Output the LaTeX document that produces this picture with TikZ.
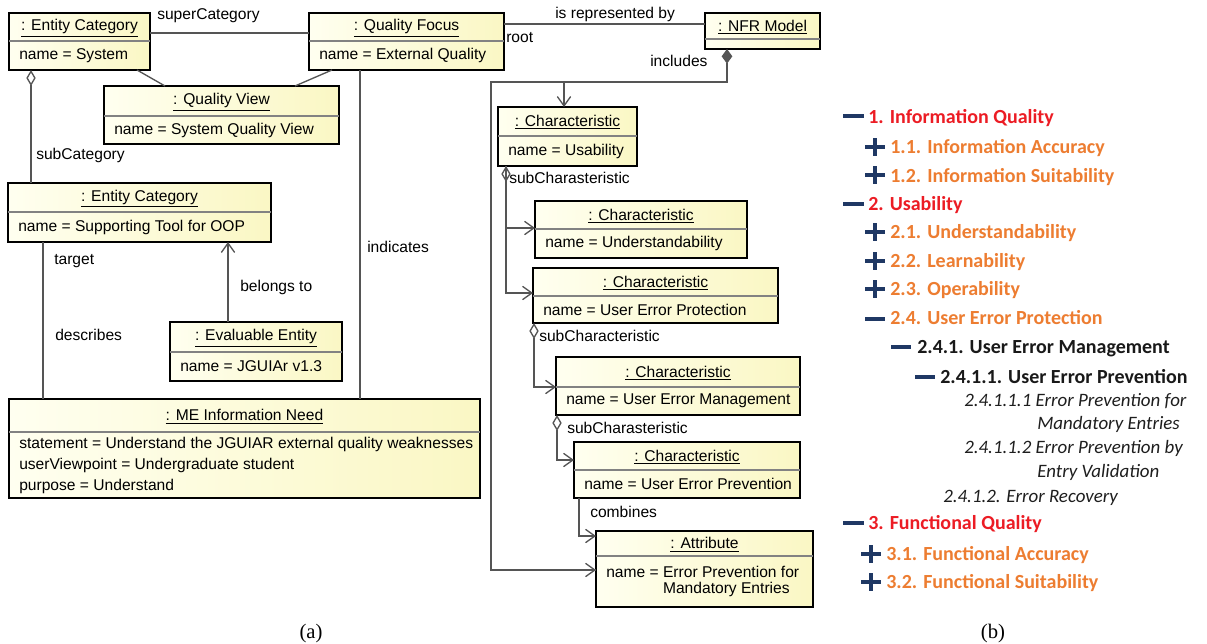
\documentclass[tikz,border=0pt]{standalone}
\usepackage{fontspec}
\setmainfont{Liberation Sans}
\newfontfamily\treefont{Carlito}
\newfontfamily\capfont{Liberation Serif}
\usetikzlibrary{fit,calc,arrows.meta}

\definecolor{objleft}{RGB}{255,255,240}
\definecolor{objright}{RGB}{250,247,196}
\definecolor{linkgray}{RGB}{85,85,85}
\definecolor{divgray}{RGB}{130,130,130}
\definecolor{lvlred}{RGB}{236,28,36}
\definecolor{lvlorange}{RGB}{237,125,49}
\definecolor{treenavy}{RGB}{31,56,100}
\definecolor{leafgray}{RGB}{30,30,30}

\newcommand\umlfont{\fontsize{11.7}{15.75}\selectfont}

\tikzset{
  objbox/.style={draw=black, line width=1.5pt, inner sep=0pt, outer sep=0pt,
    left color=objleft, right color=objright},
  objdiv/.style={draw=divgray, line width=0.8pt},
  objtitle/.style={inner sep=0pt, font=\umlfont},
  objattr/.style={inner sep=0pt, anchor=west, align=left, font=\umlfont},
  link/.style={draw=linkgray, line width=1pt},
  nav/.style={link, -{Straight Barb[length=7pt,width=10pt]}},
  aggr/.style={link, {Diamond[fill=white,length=12pt,width=7pt]}-},
  aggrnav/.style={link, {Diamond[fill=white,length=12pt,width=7pt]}-{Straight Barb[length=7pt,width=10pt]}},
  comp/.style={link, {Diamond[fill=linkgray,length=11pt,width=8pt]}-},
  role/.style={inner sep=0pt, anchor=west, font=\umlfont},
  lvlone/.style={anchor=base west, inner sep=0pt, text=lvlred,
    font={\treefont\bfseries\fontsize{15}{18}\selectfont}},
  lvltwo/.style={lvlone, text=lvlorange},
  lvldeep/.style={lvlone, text=black!90},
  lvlleaf/.style={anchor=base west, inner sep=0pt, text=leafgray,
    font={\treefont\itshape\fontsize{14.2}{17}\selectfont}},
  treeminus/.style={draw=treenavy, line width=2.3pt},
  treeplus/.style={draw=treenavy, line width=2.6pt},
  caption/.style={anchor=base, inner sep=0pt, font={\capfont\fontsize{15.5}{18}\selectfont}}
}

% object box: name, x1, y1, x2, y2, divider y, title, attributes
\newcommand\umlobject[8]{%
  \node[objbox, fit={(#2,#3) (#4,#5)}] (#1) {};
  \draw[objdiv] (#2,#6) -- (#4,#6);
  \node[objtitle] (#1-t) at ({(#2+#4)/2},{(#3+#6)/2+1}) {\underline{#7}};
  \node[objattr] (#1-a) at ({#2+10},{(#6+#5)/2}) {#8};
}

\begin{document}
\begin{tikzpicture}[x=0.75pt,y=-0.75pt]
\path[use as bounding box, fill=white] (0,0) rectangle (1207,643);

% ---------------- (a) object diagram ----------------
\umlobject{ec1}{9}{13}{150}{70}{41}{: Entity Category}{name = System}
\umlobject{qf}{309}{13}{504}{70}{41}{: Quality Focus}{name = External Quality}
\umlobject{nfr}{705}{13}{820}{49}{39}{: NFR Model}{}
\umlobject{qv}{104}{86}{339}{144}{116}{: Quality View}{name = System Quality View}
\umlobject{ec2}{8}{183}{271}{242}{212}{: Entity Category}{name = Supporting Tool for OOP}
\umlobject{ee}{170}{322}{342}{381}{352}{: Evaluable Entity}{name = JGUIAr v1.3}
\umlobject{me}{9}{399}{480}{498}{432}{: ME Information Need}{statement = Understand the JGUIAR external quality weaknesses\\userViewpoint = Undergraduate student\\purpose = Understand}
\umlobject{usab}{498}{107}{637}{166}{136}{: Characteristic}{name = Usability}
\umlobject{und}{535}{201}{747}{258}{229}{: Characteristic}{name = Understandability}
\umlobject{uep}{533}{268}{778}{323}{296}{: Characteristic}{name = User Error Protection}
\umlobject{uem}{556}{357}{800}{415}{387}{: Characteristic}{name = User Error Management}
\umlobject{uepr}{574}{442}{800}{498}{470}{: Characteristic}{name = User Error Prevention}
\umlobject{attr}{596}{531}{813}{607}{556}{: Attribute}{name = Error Prevention for\\[-4pt]\phantom{name = }Mandatory Entries}

% links between objects
\draw[link] ($(ec1.north east)+(0,20)$) -- ($(qf.north west)+(0,20)$);
\draw[link] ($(ec1.south west)+(128,0)$) -- ($(qv.north west)+(61,0)$);
\draw[link] ($(qf.south west)+(23,0)$) -- ($(qv.north west)+(191,0)$);
\draw[link] ($(qf.north east)+(0,11)$) -- ($(nfr.north west)+(0,11)$);
\draw[aggr] ($(ec1.south west)+(22,0)$) -- ($(ec2.north west)+(23,0)$);
\draw[link] ($(ec2.south west)+(35,0)$) -- ($(me.north west)+(34,0)$);
\draw[nav] ($(ee.north west)+(58,0)$) -- ($(ec2.south west)+(220,0)$);
\draw[link] ($(qf.south west)+(51,0)$) -- ($(me.north west)+(351,0)$);

% NFR model composition
\coordinate (bus) at ($(nfr.south west)+(22,33)$);
\coordinate (trunk) at ($(usab.north west)+(-7,0)$);
\draw[comp] ($(nfr.south west)+(22,0)$) -- (bus) -- (bus -| trunk) |- ($(attr.north west)+(0,39)$);
\draw[nav] ($(bus -| usab.north west)+(66,0)$) -- ($(usab.north west)+(66,0)$);
\draw[link, -{Straight Barb[length=7pt,width=10pt]}] ($(attr.north west)+(-1,39)$) -- ($(attr.north west)+(0,39)$);

% sub-characteristics
\draw[aggrnav] ($(usab.south west)+(8,0)$) |- ($(und.north west)+(0,27)$);
\draw[nav] ($(usab.south west)+(8,0)$) |- ($(uep.north west)+(0,25)$);
\draw[aggrnav] ($(uep.south west)+(1,0)$) |- ($(uem.north west)+(0,30)$);
\draw[aggrnav] ($(uem.south west)+(1,0)$) |- ($(uepr.north west)+(0,18)$);
\draw[nav] ($(uepr.south west)+(5,0)$) |- ($(attr.north west)+(0,5)$);

% role names and link labels
\node[role] (l-super) at (157,16) {superCategory};
\node[role] (l-repr) at (555,14) {is represented by};
\node[role] (l-root) at (506,38) {root};
\node[role] (l-incl) at (650,61) {includes};
\node[role] (l-subcat) at (36,155) {subCategory};
\node[role] (l-target) at (54,261) {target};
\node[role] (l-descr) at (55,335) {describes};
\node[role] (l-belongs) at (240,287) {belongs to};
\node[role] (l-indic) at (367,247) {indicates};
\node[role] (l-sub1) at (509,178) {subCharasteristic};
\node[role] (l-sub2) at (539,336) {subCharacteristic};
\node[role] (l-sub3) at (567,428) {subCharasteristic};
\node[role] (l-comb) at (590,512) {combines};

% ---------------- (b) quality tree ----------------
\draw[treeminus] (843,116) -- (864,116);
\node[lvlone] (t1) at (868,123) {1. Information Quality};
\draw[treeplus] (865,147) -- (885,147) (875,138) -- (875,156);
\node[lvltwo] (t11) at (890,153) {1.1. Information Accuracy};
\draw[treeplus] (865,175) -- (885,175) (875,166) -- (875,184);
\node[lvltwo] (t12) at (890,182) {1.2. Information Suitability};
\draw[treeminus] (843,204) -- (864,204);
\node[lvlone] (t2) at (868,210) {2. Usability};
\draw[treeplus] (865,232) -- (885,232) (875,223) -- (875,241);
\node[lvltwo] (t21) at (890,238) {2.1. Understandability};
\draw[treeplus] (865,261) -- (885,261) (875,252) -- (875,270);
\node[lvltwo] (t22) at (890,267) {2.2. Learnability};
\draw[treeplus] (865,289) -- (885,289) (875,280) -- (875,298);
\node[lvltwo] (t23) at (890,295) {2.3. Operability};
\draw[treeminus] (865,319) -- (885,319);
\node[lvltwo] (t24) at (890,324) {2.4. User Error Protection};
\draw[treeminus] (891,347) -- (911,347);
\node[lvldeep] (t241) at (917,353) {2.4.1. User Error Management};
\draw[treeminus] (915,377) -- (935,377);
\node[lvldeep] (t2411) at (940,383) {2.4.1.1. User Error Prevention};
\node[lvlleaf] (t24111) at (964,406) {2.4.1.1.1 Error Prevention for};
\node[lvlleaf] (t24111b) at (1037,429) {Mandatory Entries};
\node[lvlleaf] (t24112) at (964,453) {2.4.1.1.2 Error Prevention by};
\node[lvlleaf] (t24112b) at (1037,477) {Entry Validation};
\node[lvlleaf] (t2412) at (943,502) {2.4.1.2. Error Recovery};
\draw[treeminus] (843,523) -- (864,523);
\node[lvlone] (t3) at (868,529) {3. Functional Quality};
\draw[treeplus] (861,554) -- (881,554) (871,545) -- (871,563);
\node[lvltwo] (t31) at (886,560) {3.1. Functional Accuracy};
\draw[treeplus] (861,582) -- (881,582) (871,573) -- (871,591);
\node[lvltwo] (t32) at (886,588) {3.2. Functional Suitability};

% captions
\node[caption] (cap-a) at (311,638) {(a)};
\node[caption] (cap-b) at (993,638) {(b)};
\end{tikzpicture}
\end{document}
